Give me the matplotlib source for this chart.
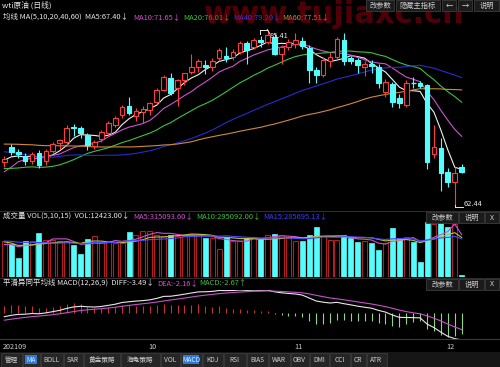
import numpy as np
import matplotlib
matplotlib.use('Agg')
import matplotlib.pyplot as plt
from matplotlib.patches import Rectangle
from matplotlib.lines import Line2D

plt.rcParams['font.family'] = ['Noto Sans CJK SC', 'DejaVu Sans']

# ---------------- data ----------------
# closes before the visible window (needed for MA / MACD warm-up)
hist_close = [69.96, 70.29, 70.91, 70.88, 72.12, 72.15, 71.04, 71.64, 73.66, 73.06,
              73.08, 73.30, 74.05, 72.91, 72.98, 73.47, 75.23, 75.16, 73.37, 72.20,
              72.94, 74.56, 74.10, 75.25, 73.13, 71.65, 71.81, 66.42, 67.42, 70.30,
              71.91, 72.07, 71.91, 71.65, 72.39, 73.62, 73.95, 71.26, 70.56, 68.15,
              69.09, 68.28, 66.48, 68.29, 69.25, 69.09, 68.44, 67.29, 66.59, 65.46,
              63.69, 62.32, 65.64, 67.54, 68.36, 67.42, 68.74, 69.21, 68.50]
hist_vol = [262, 248, 281, 297, 305, 330, 318, 254, 236, 270, 241, 228, 219, 256]  # thousand

opens = [68.3, 70.2, 69.6, 69.1, 68.4, 69.4, 68.4, 69.7, 70.7, 70.8,
         72.8, 72.6, 71.7, 70.3, 71.3, 72.0, 73.1, 74.3, 75.5, 74.2,
         74.7, 75.0, 76.0, 77.6, 79.1, 77.8, 78.9, 79.9, 80.5, 80.8,
         80.6, 81.7, 81.95, 81.9, 82.5, 83.6, 83.2, 84.05, 83.8, 84.5,
         82.3, 83.2, 83.5, 83.9, 83.0, 80.2, 79.5, 81.3, 81.9, 84.0,
         81.7, 81.4, 80.5, 80.9, 80.6, 77.3, 78.3, 76.6, 75.7, 78.55,
         78.5, 78.2, 69.3, 70.1, 67.0, 65.7, 67.6]
highs = [69.1, 70.6, 69.9, 69.4, 69.5, 69.8, 69.9, 70.9, 71.2, 73.0,
         73.2, 72.9, 72.0, 71.1, 72.4, 73.6, 74.2, 75.6, 76.7, 75.3,
         75.5, 76.0, 77.8, 79.5, 79.8, 79.0, 79.8, 82.3, 81.6, 81.4,
         81.7, 83.0, 83.2, 82.9, 83.9, 83.9, 84.3, 84.6, 85.41, 84.8,
         83.4, 84.2, 84.9, 84.5, 83.4, 80.5, 81.8, 82.5, 84.5, 84.9,
         82.0, 81.7, 81.3, 81.4, 80.9, 79.0, 78.6, 77.0, 78.9, 79.2,
         78.8, 78.4, 73.0, 71.4, 67.5, 67.6, 68.0]
lows = [67.6, 69.2, 68.8, 67.9, 68.0, 67.5, 67.9, 69.4, 69.9, 70.4,
        71.6, 71.4, 69.8, 69.9, 70.8, 71.8, 72.8, 73.9, 74.4, 73.6,
        73.3, 74.4, 75.8, 77.4, 76.9, 75.5, 78.2, 79.6, 79.9, 79.6,
        80.1, 81.3, 81.2, 81.5, 82.2, 81.0, 82.9, 83.2, 83.5, 82.1,
        81.0, 82.8, 83.0, 82.9, 78.5, 78.5, 79.2, 80.6, 81.6, 80.8,
        80.9, 79.8, 79.4, 79.8, 77.8, 76.7, 75.4, 75.3, 75.4, 77.9,
        77.9, 67.4, 68.8, 64.5, 65.0, 62.44, 66.9]
closes = [68.6, 69.6, 69.3, 68.4, 69.3, 67.9, 69.7, 70.6, 71.1, 72.7,
          72.6, 72.0, 70.4, 70.8, 72.1, 73.3, 73.9, 75.4, 74.6, 74.9,
          75.1, 75.9, 77.6, 79.2, 77.2, 78.9, 79.8, 80.6, 81.3, 80.5,
          81.3, 82.7, 81.75, 82.5, 83.6, 82.8, 84.05, 83.85, 84.7, 82.3,
          83.2, 83.8, 84.0, 83.3, 80.2, 79.5, 81.45, 81.9, 84.2, 81.3,
          81.3, 80.8, 80.9, 80.75, 78.5, 78.6, 76.0, 75.9, 78.5, 78.45,
          78.1, 68.3, 70.2, 66.9, 65.7, 66.8, 67.0]
volumes = [265, 245, 140, 270, 265, 328, 278, 278, 272, 265,
           235, 172, 285, 308, 258, 258, 252, 252, 335, 315,
           345, 345, 315, 308, 315, 302, 302, 320, 320, 290,
           290, 208, 295, 272, 272, 290, 300, 282, 315, 320,
           315, 290, 265, 265, 315, 370, 302, 278, 278, 315,
           290, 258, 265, 250, 200, 255, 365, 290, 300, 260,
           115, 410, 395, 400, 375, 393, 12.423]  # thousand contracts

month_labels = ['202109', '10', '11', '12']
month_start = [0, 21, 42, 64]

title_txt = 'wti原油 (日线)'
ma_legend = [('均线 MA(5,10,20,40,60)  MA5:67.40↓', '#e6e6e6', 3),
             ('MA10:71.65↓', '#d050d0', 133),
             ('MA20:76.01↓', '#40c040', 183),
             ('MA40:79.20↓', '#3a3aff', 233),
             ('MA60:77.51↓', '#d08a3a', 282)]
vol_legend = [('成交量 VOL(5,10,15)  VOL:12423.00↓', '#e6e6e6', 3),
              ('MA5:315093.60↓', '#d050d0', 133),
              ('MA10:295092.00↓', '#40c040', 196),
              ('MA15:285695.13↓', '#3a3aff', 263)]
macd_legend = [('平滑异同平均线 MACD(12,26,9)  DIFF:-3.49↓', '#e6e6e6', 3),
               ('DEA:-2.16↓', '#d050d0', 157),
               ('MACD:-2.67↑', '#40c040', 199)]
tabs = ['管理', 'MA', 'BOLL', 'SAR', '黄金策略', '海龟策略', 'VOL', 'MACD', 'KDJ',
        'RSI', 'BIAS', 'WAR', 'OBV', 'DMI', 'CCI', 'CR', 'ATR']
active_tabs = ['MA', 'MACD']

# ---------------- helpers ----------------
W, H = 500, 367
RED = '#ff3c3c'
VRED = '#b02020'
CYAN = '#54fcfc'

fig = plt.figure(figsize=(5, 3.67), dpi=100, facecolor='black')

def fx(x):
    return x / W

def fy(y):
    return 1 - y / H

def add_ax(y0, y1):
    ax = fig.add_axes([0, fy(y1), 1, (y1 - y0) / H])
    ax.set_facecolor('black')
    ax.set_axis_off()
    return ax

def ftext(x, y, s, color='#e6e6e6', size=5.4, ha='left', zorder=3, **kw):
    fig.text(fx(x), fy(y), s, color=color, fontsize=size, ha=ha, va='center',
             zorder=zorder, **kw)

def hline(y, x0=0, x1=W, color='#2e2e2e', lw=0.8):
    fig.add_artist(Line2D([fx(x0), fx(x1)], [fy(y), fy(y)], color=color, lw=lw,
                          transform=fig.transFigure))

def button(x0, x1, y0, y1, label, face='#1b1b1b', edge='#3c3c3c', tc='#cfcfcf', size=5.2):
    fig.add_artist(Rectangle((fx(x0), fy(y1)), (x1 - x0) / W, (y1 - y0) / H,
                             transform=fig.transFigure, facecolor=face, edgecolor=edge,
                             lw=0.6, zorder=5))
    ftext((x0 + x1) / 2, (y0 + y1) / 2, label, color=tc, size=size, ha='center', zorder=6)

X0, DX = 4.3, 6.93
XL = (-X0 / DX, (W - X0) / DX)
n = len(closes)
idx = np.arange(n)

def sma(a, k):
    a = np.asarray(a, float)
    out = np.full(len(a), np.nan)
    c = np.cumsum(np.insert(a, 0, 0.0))
    out[k - 1:] = (c[k:] - c[:-k]) / k
    return out

def ema(a, k):
    a = np.asarray(a, float)
    out = np.empty(len(a))
    al = 2.0 / (k + 1)
    out[0] = a[0]
    for i in range(1, len(a)):
        out[i] = out[i - 1] + al * (a[i] - out[i - 1])
    return out

all_close = np.array(hist_close + closes)
all_vol = np.array(hist_vol + volumes)
nh = len(hist_close)
nv = len(hist_vol)

# ---------------- main price panel ----------------
ax = add_ax(22, 210)
hi, lo = max(highs), min(lows)
sc = (207 - 29.5) / (hi - lo)
ax.set_ylim(lo - (210 - 207) / sc, hi + (29.5 - 22) / sc)
ax.set_xlim(*XL)
bw = 0.68
for i in range(n):
    o, h, l, c = opens[i], highs[i], lows[i], closes[i]
    up = c >= o
    col = RED if up else CYAN
    top, bot = max(o, c), min(o, c)
    ax.vlines(i, top, h, color=col, lw=0.8, zorder=3)
    ax.vlines(i, l, bot, color=col, lw=0.8, zorder=3)
    if top - bot < 0.12:
        ax.hlines((top + bot) / 2, i - bw / 2, i + bw / 2, color=col, lw=1.0, zorder=3)
    else:
        ax.add_patch(Rectangle((i - bw / 2, bot), bw, top - bot,
                               facecolor='black' if up else CYAN, edgecolor=col,
                               lw=0.8, zorder=3))

ma_cols = {5: '#f0f0f0', 10: '#d050d0', 20: '#40c040', 40: '#2a2ad0', 60: '#d08a3a'}
for k, col in ma_cols.items():
    m = sma(all_close, k)[nh:]
    ax.plot(idx, m, color=col, lw=0.8, zorder=2)

# max / min markers
imax = int(np.argmax(highs))
imin = int(np.argmin(lows))
ax.plot([imax - 1.1, imax - 0.05], [hi, hi], color='#e6e6e6', lw=0.7, zorder=4)
ax.plot([imax - 1.1, imax - 1.1], [hi, hi - 0.55], color='#e6e6e6', lw=0.7, zorder=4)
ax.plot([imax - 0.05, imax + 0.35], [hi, hi - 0.6], color='#e6e6e6', lw=0.7, zorder=4)
ax.text(imax + 0.3, hi - 0.85, f'{hi:.2f}', color='#e6e6e6', fontsize=5.4,
        va='center', ha='left', zorder=5)
ax.plot([imin, imin + 1.2], [lo, lo], color='#e6e6e6', lw=0.7, zorder=4)
ax.plot([imin + 0.05, imin + 0.05], [lo, lo + 0.3], color='#e6e6e6', lw=0.7, zorder=4)
ax.text(imin + 1.3, lo + 0.45, f'{lo:.2f}', color='#e6e6e6', fontsize=5.4,
        va='center', ha='left', zorder=5)

# ---------------- volume panel ----------------
axv = add_ax(222, 277)
axv.set_xlim(*XL)
axv.set_ylim(0, max(volumes))
vbw = 0.72
for i in range(n):
    up = closes[i] >= opens[i]
    if up:
        axv.add_patch(Rectangle((i - vbw / 2, 0), vbw, volumes[i], facecolor='black',
                                edgecolor=VRED, lw=0.8, zorder=2))
    else:
        axv.add_patch(Rectangle((i - vbw / 2, 0), vbw, volumes[i], facecolor=CYAN,
                                edgecolor=CYAN, lw=0.5, zorder=2))
for k, col in [(5, '#d050d0'), (10, '#b8c040'), (15, '#4a4aff')]:
    m = sma(all_vol, k)[nv:]
    axv.plot(idx, m, color=col, lw=0.8, zorder=3)

# ---------------- MACD panel ----------------
axm = add_ax(290, 340)
axm.set_xlim(*XL)
dif = (ema(all_close, 12) - ema(all_close, 26))
dea = ema(dif, 9)
mac = 2 * (dif - dea)
dif, dea, mac = dif[nh:], dea[nh:], mac[nh:]
vals = np.concatenate([dif, dea, mac, [0]])
axm.set_ylim(vals.min(), vals.max())
for i in range(n):
    axm.vlines(i, 0, mac[i], color='#c83232' if mac[i] >= 0 else '#88d888', lw=0.8)
axm.plot(idx, dif, color='#e8e8e8', lw=0.8)
axm.plot(idx, dea, color='#c850c8', lw=0.8)

# ---------------- frame, texts, buttons ----------------
hline(211)
hline(278)
hline(338.5, color='#3a3a3a')

ftext(2, 5.5, title_txt, color='#e6e6e6', size=5.6)
for s, c, x in ma_legend:
    ftext(x, 17, s, color=c)
for s, c, x in vol_legend:
    ftext(x, 216, s, color=c)
for s, c, x in macd_legend:
    ftext(x, 283, s, color=c)

# watermark
fig.text(fx(465), fy(23), 'www.tujiaxc.cn', color='#b00010', alpha=0.45, fontsize=22,
         fontweight='bold', family='DejaVu Sans', ha='right', va='baseline', zorder=4)

for (x0, x1, lab) in [(366, 394, '改参数'), (396, 440, '隐藏主指标'), (442, 456, '←'),
                      (458, 472, '→'), (474, 499, '说明')]:
    button(x0, x1, 0, 11, lab)
for yy in (212, 279):
    for (x0, x1, lab) in [(426, 458, '改参数'), (459, 484, '说明'), (485, 499, 'X')]:
        button(x0, x1, yy, yy + 11, lab)

for lab, j in zip(month_labels, month_start):
    ftext(X0 + DX * j - 1.5, 347, lab, color='#cfcfcf', size=5.2)

# bottom tab bar
fig.add_artist(Rectangle((0, 0), 1, (H - 352) / H, transform=fig.transFigure,
                         facecolor='#161616', edgecolor='none'))
tab_edges = [0, 22, 40, 63, 83, 120, 160, 180, 202, 223, 246, 268, 290, 309, 329, 350, 366, 387]
for t, lab in enumerate(tabs):
    x0, x1 = tab_edges[t] + 0.5, tab_edges[t + 1] - 0.5
    if lab in active_tabs:
        button(x0, x1, 353, 366.5, '', face='#2a2a2a', edge='#3c3c3c')
        fig.add_artist(Rectangle((fx(x0 + 2.5), fy(364)), (x1 - x0 - 5) / W, 9.5 / H,
                                 transform=fig.transFigure, facecolor='#2f78d8',
                                 edgecolor='none', zorder=5.5))
        ftext((x0 + x1) / 2, 359.5, lab, color='#d8f0ff', size=4.8, ha='center', zorder=6)
    else:
        button(x0, x1, 353, 366.5, lab, face='#252525', edge='#3c3c3c', tc='#cfcfcf', size=4.8)

fig.savefig('out.png', dpi=100, facecolor='black')
